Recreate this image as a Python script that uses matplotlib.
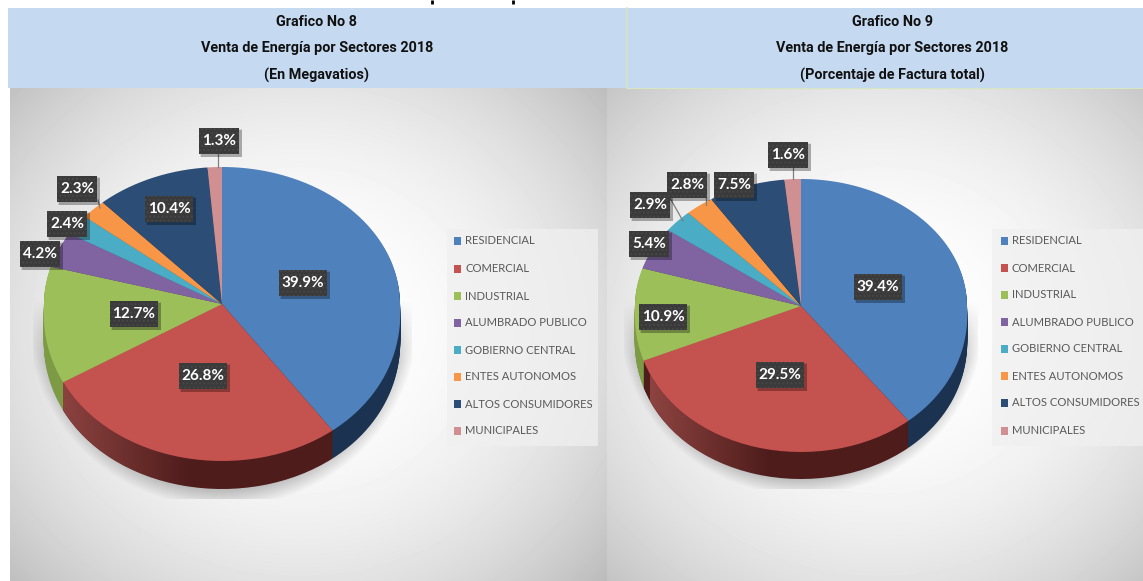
import numpy as np
import matplotlib
matplotlib.use("Agg")
import matplotlib.pyplot as plt
from matplotlib.patches import Rectangle, Polygon
from matplotlib.path import Path
from matplotlib.transforms import Transform, Affine2D
from matplotlib.colors import to_rgb

sectors = ["RESIDENCIAL", "COMERCIAL", "INDUSTRIAL", "ALUMBRADO PUBLICO",
           "GOBIERNO CENTRAL", "ENTES AUTONOMOS", "ALTOS CONSUMIDORES", "MUNICIPALES"]
mw_pct = [39.9, 26.8, 12.7, 4.2, 2.4, 2.3, 10.4, 1.3]
bill_pct = [39.4, 29.5, 10.9, 5.4, 2.9, 2.8, 7.5, 1.6]
colors = ["#4f81bd", "#c4524f", "#9dbf5a", "#8064a2", "#4bacc6", "#f79646", "#2c4d75", "#d09092"]
side_colors = ["#1b3350", "#4d1c1b", "#7d9a45", "#4d3c62", "#2d6777", "#94592a", "#1a2e46", "#7d5758"]

W, H = 1143, 581


class Squash(Transform):
    # tilted pie: the part below the centre is drawn taller and a bit wider than the part above
    input_dims = output_dims = 2
    has_inverse = False

    def __init__(self, cx, cy, rx, ry_up, ry_down, dy=0):
        super().__init__()
        self.p = (cx, cy, rx, ry_up, ry_down, dy)

    def transform_non_affine(self, xy):
        cx, cy, rx, up, down, dy = self.p
        xy = np.asarray(xy)
        x, y = xy[:, 0], xy[:, 1]
        return np.c_[cx + rx * x * (1 + 0.06 * np.clip(-y, 0, 1)), cy + dy - np.where(y > 0, up, down) * y]

    def transform_path_non_affine(self, path):
        # flatten at a big scale so the arc stays smooth
        flat = path.transformed(Affine2D().scale(400)).to_polygons(closed_only=False)[0]
        return Path(self.transform_non_affine(flat / 400))


def panel_bg(ax, x0, x1, y0, y1, light, shadow):
    xx, yy = np.meshgrid(np.arange(x0, x1), np.arange(y0, y1))
    dist = np.hypot((xx - light[0]) / 1.1, yy - light[1])
    img = 1 - 0.11 * (dist / 250) ** 2.2
    # soft shadow under the pie, cut off square like the original
    cx, cy, rx, ry, sx0, sx1, sy1 = shadow
    e = np.hypot((xx - cx) / rx, (yy - cy) / ry)
    s = np.clip((1.10 - e) / 0.10, 0, 1) * np.clip((yy - 300) / 60, 0, 1)
    s[(xx < sx0) | (xx > sx1) | (yy > sy1)] = 0
    img = img * (1 - 0.22 * s)
    ax.imshow(img, extent=(x0, x1, y1, y0), cmap="gray", vmin=0, vmax=1, aspect="auto",
              interpolation="bilinear", zorder=1)


def draw_pie(ax, values, cx, cy, rx, up, down, depth):
    # side of the pie as a stack of dark copies, then the top face
    for d in range(depth, 0, -1):
        wedges, _ = ax.pie(values, colors=side_colors, startangle=90, counterclock=False,
                           wedgeprops={"linewidth": 0})
        for w in wedges:
            w.set_transform(Squash(cx, cy, rx, up, down, d) + ax.transData)
            w.set_zorder(3)

    # red side gets lighter towards the left
    a0, a1 = np.cumsum(values)[:2] / 100 * 2 * np.pi
    th = np.linspace(a0, a1, 80)
    rim = np.c_[np.sin(th), np.cos(th)]
    poly = np.vstack([Squash(cx, cy, rx, up, down).transform_non_affine(rim),
                      Squash(cx, cy, rx, up, down, depth).transform_non_affine(rim)[::-1]])
    rgba = np.zeros((1, 200, 4))
    rgba[..., :3] = to_rgb("#8e4441")
    rgba[..., 3] = np.linspace(1, 0, 200)
    im = ax.imshow(rgba, extent=(cx - rx + 15, cx - 30, cy + down + depth, cy), aspect="auto", zorder=3.5)
    im.set_clip_path(Polygon(poly, transform=ax.transData))

    wedges, _ = ax.pie(values, colors=colors, startangle=90, counterclock=False,
                       wedgeprops={"linewidth": 0})
    for w in wedges:
        w.set_transform(Squash(cx, cy, rx, up, down) + ax.transData)
        w.set_zorder(4)


def data_labels(ax, values, spots):
    for v, (x, y) in zip(values, spots):
        txt = f"{v}%"
        w = 48 if len(txt) > 4 else 40
        ax.add_patch(Rectangle((x - w / 2 + 1, y - 13 + 1), w + 2, 26 + 2, fc="black", ec="none", alpha=0.1, zorder=6))
        ax.add_patch(Rectangle((x - w / 2 + 2, y - 13 + 2), w + 1, 26 + 1, fc="black", ec="none", alpha=0.22, zorder=6))
        ax.add_patch(Rectangle((x - w / 2, y - 13), w, 26, fc="#3a3a3a", ec="#474747", lw=0,
                               hatch="....", zorder=7))
        ax.text(x, y, txt, color="white", fontsize=11, fontweight="bold", family="Lato",
                ha="center", va="center", zorder=8)


def legend_box(ax, x0, x1, swatch_x, text_x, rows):
    ax.add_patch(Rectangle((x0, 229), x1 - x0, 217, fc="#f0f0f0", ec="none", alpha=0.75, zorder=3))
    for name, c, y in zip(sectors, colors, rows):
        ax.add_patch(Rectangle((swatch_x, y - 4), 7, 8, fc=c, ec="none", zorder=4))
        ax.text(text_x, y, name, color="#595959", fontsize=8.1, family="Lato", va="center", zorder=4)


def leaders(ax, segs):
    for (x0, y0), (x1, y1) in segs:
        ax.plot([x0, x1], [y0, y1], color="#7f7f7f", lw=0.9, zorder=5)


fig = plt.figure(figsize=(W / 100, H / 100), dpi=100)
ax = fig.add_axes([0, 0, 1, 1])

# chart panels
panel_bg(ax, 10, 607, 88, H, (300, 330), (222, 318, 178, 172, 33, 411, 498))
panel_bg(ax, 607, W, 88, H, (880, 330), (801, 318, 166, 161, 624, 977, 488))

draw_pie(ax, mw_pct, 222, 304, 178, 137, 157, 28)
draw_pie(ax, bill_pct, 801, 306, 166, 127, 146, 27)

ax.set_aspect("auto")
ax.set_xlim(0, W)
ax.set_ylim(H, 0)
ax.axis("off")

# bit of the cut off heading above the bands
for x in [432, 513]:
    ax.plot([x, x], [0, 4], color="black", lw=2, solid_capstyle="butt", zorder=11)

# title bands
ax.add_patch(Rectangle((8, 8), 619, 80, fc="#c5d9f1", ec="none", zorder=9))
ax.add_patch(Rectangle((627, 8), W - 627, 80, fc="#c5d9f1", ec="none", zorder=9))
ax.plot([627, 627], [8, 88], color="#d8e6c0", lw=1.2, zorder=10)
ax.plot([627, W], [87.5, 87.5], color="#d8e6c0", lw=0.8, zorder=10)

for cx, lines in [(317, ["Grafico No 8", "Venta de Energía por Sectores 2018", "(En Megavatios)"]),
                  (892, ["Grafico No 9", "Venta de Energía por Sectores 2018", "(Porcentaje de Factura total)"])]:
    for y, line in zip([22, 48, 75], lines):
        ax.text(cx, y, line, fontsize=10.4, fontweight="bold", family="Roboto", color="#111111",
                ha="center", va="center", zorder=11)

legend_box(ax, 447, 598, 454, 465, [241, 269, 296, 323, 350, 377, 404, 431])
legend_box(ax, 992, 1143, 1001, 1012, [241, 268, 295, 322, 349, 376, 403, 431])

leaders(ax, [((218, 153), (218, 167)), ((98, 200), (100, 208))])
leaders(ax, [((793, 167), (793, 179)), ((706, 197), (706, 205)), ((670, 198), (683, 221))])

data_labels(ax, mw_pct, [(303, 283), (203, 376), (134, 314), (40, 254), (67, 224), (77, 189), (169, 209), (219, 141)])
data_labels(ax, bill_pct, [(878, 287), (780, 375), (663, 317), (649, 244), (650, 205), (687, 185), (734, 185), (788, 155)])

fig.savefig("out.png", dpi=100)
